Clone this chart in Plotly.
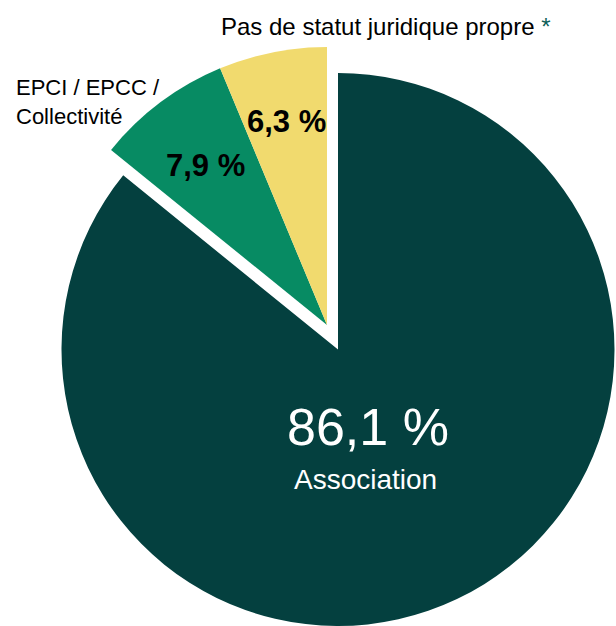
import plotly.graph_objects as go

# Répartition par statut juridique (en %)
labels = ["Association", "EPCI / EPCC /<br>Collectivité", "Pas de statut juridique propre"]
values = [86.1, 7.9, 6.3]
colors = ["#04403F", "#078B63", "#F1DA6E"]

W, H = 616, 626


def px(x):
    return x / W


def py(y):
    return 1 - y / H


def pct(v):
    return f"{v:.1f}".replace(".", ",") + " %"


fig = go.Figure()

# Secteur principal, détaché du reste
fig.add_trace(go.Pie(
    labels=labels, values=values, sort=False, direction="clockwise", rotation=0,
    marker=dict(colors=[colors[0], "rgba(0,0,0,0)", "rgba(0,0,0,0)"], line=dict(width=0)),
    textinfo="none", hoverinfo="label+percent", showlegend=False,
    domain=dict(x=[60 / W, 1.0], y=[0.0, 553 / H]),
))

# Petits secteurs
fig.add_trace(go.Pie(
    labels=labels, values=values, sort=False, direction="clockwise", rotation=0,
    marker=dict(colors=["rgba(0,0,0,0)", colors[1], colors[2]], line=dict(width=0)),
    textinfo="none", hoverinfo="label+percent", showlegend=False,
    domain=dict(x=[49 / W, 605 / W], y=[23 / H, 579 / H]),
))

sans = "Liberation Sans, Arial, sans-serif"

annotations = [
    dict(x=px(368), y=py(427), text=pct(values[0]), font=dict(size=52, color="white")),
    dict(x=px(366), y=py(479), text=labels[0], font=dict(size=28, color="white")),
    dict(x=px(205), y=py(165), text=f"<b>{pct(values[1])}</b>", font=dict(size=31, color="black")),
    dict(x=px(286), y=py(121), text=f"<b>{pct(values[2])}</b>", font=dict(size=31, color="black")),
    dict(x=px(14), y=py(102), text=labels[1], xanchor="left", align="left",
         font=dict(size=22, color="black")),
    dict(x=px(219), y=py(27), xanchor="left",
         text=labels[2] + " <span style='color:#0E5F58'>*</span>",
         font=dict(size=24, color="black")),
]
for a in annotations:
    a.update(xref="paper", yref="paper", showarrow=False)
    a["font"]["family"] = sans
    a.setdefault("xanchor", "center")
    a.setdefault("yanchor", "middle")

fig.update_layout(
    width=W, height=H,
    margin=dict(l=0, r=0, t=0, b=0),
    paper_bgcolor="white", plot_bgcolor="white",
    font=dict(family=sans),
    annotations=annotations,
)

fig.write_html("out.html")
